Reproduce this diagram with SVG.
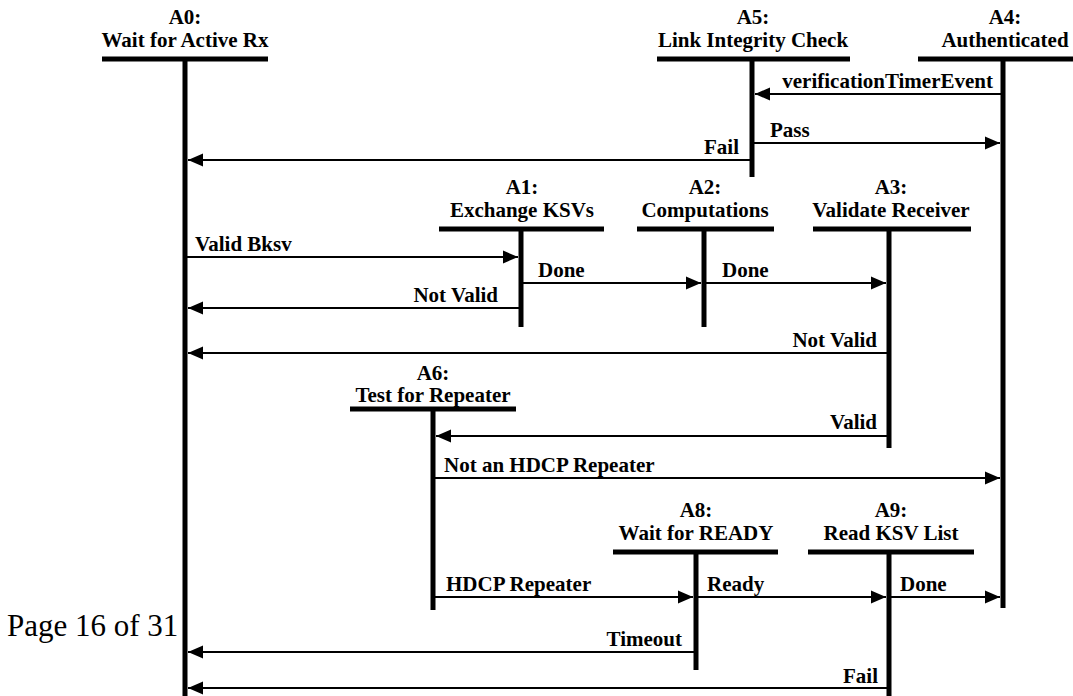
<svg xmlns="http://www.w3.org/2000/svg" width="1073" height="696" viewBox="0 0 1073 696">
<defs>
<marker id="ah" markerUnits="userSpaceOnUse" markerWidth="16" markerHeight="14" refX="15" refY="7" orient="auto">
<path d="M0,0.5 L15,7 L0,13.5 z" fill="#000"/>
</marker>
</defs>
<style>
.t{font-family:"Liberation Serif","Times New Roman",serif;font-weight:bold;font-size:21px;fill:#000}
.c{text-anchor:middle}
.e{text-anchor:end}
.bar{stroke:#000;stroke-width:5;fill:none}
.life{stroke:#000;stroke-width:5;fill:none}
.msg{stroke:#000;stroke-width:2;fill:none;marker-end:url(#ah)}
.pg{font-family:"Liberation Serif","Times New Roman",serif;font-size:31px;fill:#000}
</style>
<rect width="1073" height="696" fill="#fff"/>
<g id="A0">
<text class="t c" x="185" y="24">A0:</text>
<text class="t c" x="185" y="47">Wait for Active Rx</text>
<line class="bar" x1="102" y1="59" x2="268" y2="59"/>
<line class="life" x1="185" y1="59" x2="185" y2="696"/>
</g>
<g id="A5">
<text class="t c" x="753" y="24">A5:</text>
<text class="t c" x="753" y="47">Link Integrity Check</text>
<line class="bar" x1="657" y1="59" x2="850" y2="59"/>
<line class="life" x1="752" y1="59" x2="752" y2="177"/>
</g>
<g id="A4">
<text class="t c" x="1005" y="24">A4:</text>
<text class="t c" x="1005" y="47">Authenticated</text>
<line class="bar" x1="918" y1="59" x2="1073" y2="59"/>
<line class="life" x1="1003" y1="59" x2="1003" y2="608"/>
</g>
<g id="A1">
<text class="t c" x="522" y="194">A1:</text>
<text class="t c" x="522" y="217">Exchange KSVs</text>
<line class="bar" x1="439" y1="229" x2="604" y2="229"/>
<line class="life" x1="521" y1="229" x2="521" y2="327"/>
</g>
<g id="A2">
<text class="t c" x="705" y="194">A2:</text>
<text class="t c" x="705" y="217">Computations</text>
<line class="bar" x1="637" y1="229" x2="774" y2="229"/>
<line class="life" x1="704" y1="229" x2="704" y2="327"/>
</g>
<g id="A3">
<text class="t c" x="891" y="194">A3:</text>
<text class="t c" x="891" y="217">Validate Receiver</text>
<line class="bar" x1="813" y1="229" x2="971" y2="229"/>
<line class="life" x1="889" y1="229" x2="889" y2="448"/>
</g>
<g id="A6">
<text class="t c" x="433" y="380">A6:</text>
<text class="t c" x="433" y="402">Test for Repeater</text>
<line class="bar" x1="350" y1="409" x2="516" y2="409"/>
<line class="life" x1="433" y1="409" x2="433" y2="610"/>
</g>
<g id="A8">
<text class="t c" x="696" y="517">A8:</text>
<text class="t c" x="696" y="540">Wait for READY</text>
<line class="bar" x1="613" y1="552" x2="778" y2="552"/>
<line class="life" x1="696" y1="552" x2="696" y2="670"/>
</g>
<g id="A9">
<text class="t c" x="891" y="517">A9:</text>
<text class="t c" x="891" y="540">Read KSV List</text>
<line class="bar" x1="808" y1="552" x2="974" y2="552"/>
<line class="life" x1="889" y1="552" x2="889" y2="696"/>
</g>
<g id="connectors">
<line class="msg" x1="1001" y1="94" x2="755" y2="94"/>
<text class="t e" x="993" y="88">verificationTimerEvent</text>
<line class="msg" x1="754" y1="143" x2="1000" y2="143"/>
<text class="t" x="770" y="137">Pass</text>
<line class="msg" x1="751" y1="160" x2="188" y2="160"/>
<text class="t e" x="739" y="154">Fail</text>
<line class="msg" x1="187" y1="257" x2="518" y2="257"/>
<text class="t" x="195" y="251">Valid Bksv</text>
<line class="msg" x1="523" y1="283" x2="701" y2="283"/>
<text class="t" x="538" y="277">Done</text>
<line class="msg" x1="520" y1="308" x2="188" y2="308"/>
<text class="t e" x="498" y="302">Not Valid</text>
<line class="msg" x1="706" y1="283" x2="886" y2="283"/>
<text class="t" x="722" y="277">Done</text>
<line class="msg" x1="888" y1="353" x2="188" y2="353"/>
<text class="t e" x="877" y="347">Not Valid</text>
<line class="msg" x1="888" y1="436" x2="436" y2="436"/>
<text class="t e" x="877" y="429">Valid</text>
<line class="msg" x1="435" y1="478" x2="1000" y2="478"/>
<text class="t" x="444" y="472">Not an HDCP Repeater</text>
<line class="msg" x1="435" y1="597" x2="693" y2="597"/>
<text class="t" x="446" y="591">HDCP Repeater</text>
<line class="msg" x1="698" y1="597" x2="886" y2="597"/>
<text class="t" x="707" y="591">Ready</text>
<line class="msg" x1="891" y1="597" x2="1000" y2="597"/>
<text class="t" x="900" y="591">Done</text>
<line class="msg" x1="695" y1="652" x2="188" y2="652"/>
<text class="t e" x="682" y="646">Timeout</text>
<line class="msg" x1="888" y1="688" x2="188" y2="688"/>
<text class="t e" x="878" y="683">Fail</text>
</g>
<text class="pg" x="7" y="636">Page 16 of 31</text>
</svg>
